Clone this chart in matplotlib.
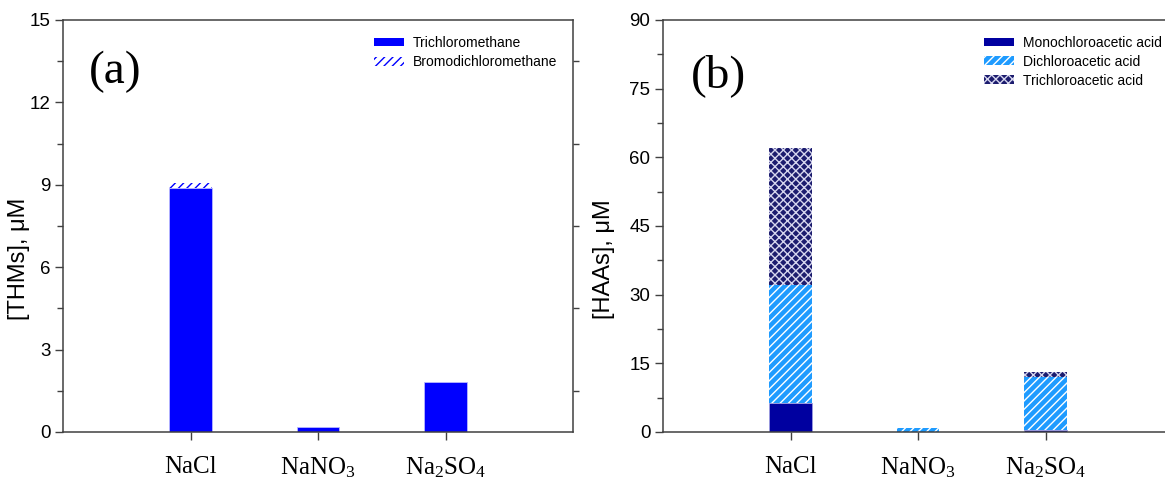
import matplotlib
matplotlib.use("Agg")
import matplotlib.pyplot as plt
from matplotlib.patches import Patch
from matplotlib.ticker import MultipleLocator
import numpy as np

# --- data -------------------------------------------------------------
salts = ["NaCl", "NaNO$_3$", "Na$_2$SO$_4$"]

# THMs (uM)
trichloromethane = [8.9, 0.2, 1.82]
bromodichloromethane = [0.15, 0.0, 0.0]

# HAAs (uM)
monochloroacetic = [6.3, 0.0, 0.5]
dichloroacetic = [25.8, 0.8, 11.5]
trichloroacetic = [30.0, 0.0, 1.2]

thm_ticks = [0, 3, 6, 9, 12, 15]
haa_ticks = [0, 15, 30, 45, 60, 75, 90]

# --- style ------------------------------------------------------------
plt.rcParams["font.family"] = ["Liberation Sans", "DejaVu Sans"]
plt.rcParams["mathtext.fontset"] = "custom"
plt.rcParams["mathtext.rm"] = "Liberation Serif"
plt.rcParams["mathtext.it"] = "Liberation Serif:italic"
plt.rcParams["hatch.linewidth"] = 1.0

SPINE = "#404040"
BLUE = "#0000FF"
NAVY = "#0000A0"
SKY = "#1E9BFF"
CHECK_FACE = "#1C1C6E"
CHECK_LINE = "#D6D6EE"

fig = plt.figure(figsize=(11.65, 4.86), dpi=100)
W, H = 1165, 486
ax_a = fig.add_axes([63 / W, 1 - 432 / H, (573 - 63) / W, (432 - 20) / H])
ax_b = fig.add_axes([663 / W, 1 - 432 / H, (1173 - 663) / W, (432 - 20) / H])

x = np.arange(1, len(salts) + 1)
bw = 0.33


def style_axes(ax, ymax, ticks, minor, ylabel, label_x):
    ax.set_xlim(0, 4)
    ax.set_ylim(0, ymax)
    ax.set_yticks(ticks)
    ax.yaxis.set_minor_locator(MultipleLocator(minor))
    ax.set_xticks(x)
    ax.set_xticklabels(salts, fontsize=18, family="Liberation Serif")
    for s in ax.spines.values():
        s.set_color(SPINE)
        s.set_linewidth(1.1)
    ax.tick_params(axis="y", which="major", direction="out", length=6,
                   width=1, color=SPINE, labelsize=13.5, pad=3)
    ax.tick_params(axis="y", which="minor", direction="out", length=4,
                   width=1, color=SPINE)
    ax.tick_params(axis="x", which="major", direction="out", length=6,
                   width=1, color=SPINE, pad=11)
    ax.set_ylabel(ylabel, fontsize=17)
    ax.yaxis.set_label_coords(label_x, 0.42)


# --- (a) THMs ---------------------------------------------------------
ax_a.bar(x, trichloromethane, bw, color=BLUE, edgecolor="#B8B8FF",
         linewidth=0.6, zorder=2)
ax_a.bar(x, bromodichloromethane, bw, bottom=trichloromethane,
         facecolor="white", edgecolor=BLUE, hatch="////", linewidth=0,
         zorder=2)
style_axes(ax_a, 15, thm_ticks, 1.5, "[THMs], \u03bcM", -0.064)

# right-hand outward ticks without labels
ax_a_r = ax_a.twinx()
ax_a_r.set_ylim(0, 15)
ax_a_r.set_yticks([])
ax_a_r.yaxis.set_minor_locator(MultipleLocator(3, offset=1.5))
ax_a_r.tick_params(axis="y", which="minor", direction="out", length=4,
                   width=1, color=SPINE)
for s in ax_a_r.spines.values():
    s.set_visible(False)

ax_a.text(0.102, 0.875, "(a)", transform=ax_a.transAxes, fontsize=34,
          family="Liberation Serif", ha="center", va="center")

leg_a = [Patch(facecolor=BLUE, edgecolor=BLUE, linewidth=0),
         Patch(facecolor="white", edgecolor=BLUE, hatch="////", linewidth=0)]
ax_a.legend(leg_a, ["Trichloromethane", "Bromodichloromethane"],
            loc="upper left", bbox_to_anchor=(0.59, 0.985), frameon=False,
            fontsize=10, handlelength=2.2, handleheight=0.6,
            handletextpad=0.65, labelspacing=0.4, borderpad=0.2)

# --- (b) HAAs ---------------------------------------------------------
mca = np.array(monochloroacetic)
dca = np.array(dichloroacetic)
tca = np.array(trichloroacetic)
ax_b.bar(x, mca, bw, color=NAVY, edgecolor="#9C9CE0", linewidth=0.6,
         zorder=2)
ax_b.bar(x, dca, bw, bottom=mca, facecolor=SKY, edgecolor="white",
         hatch="////", linewidth=0, zorder=2)
ax_b.bar(x, tca, bw, bottom=mca + dca, facecolor=CHECK_FACE,
         edgecolor=CHECK_LINE, hatch="xxxx", linewidth=0, zorder=2)
style_axes(ax_b, 90, haa_ticks, 7.5, "[HAAs], \u03bcM", -0.094)

ax_b.text(0.108, 0.865, "(b)", transform=ax_b.transAxes, fontsize=34,
          family="Liberation Serif", ha="center", va="center")

leg_b = [Patch(facecolor=NAVY, edgecolor=NAVY, linewidth=0),
         Patch(facecolor=SKY, edgecolor="white", hatch="////", linewidth=0),
         Patch(facecolor=CHECK_FACE, edgecolor=CHECK_LINE, hatch="xxxx",
               linewidth=0)]
ax_b.legend(leg_b, ["Monochloroacetic acid", "Dichloroacetic acid",
                    "Trichloroacetic acid"],
            loc="upper left", bbox_to_anchor=(0.61, 0.985), frameon=False,
            fontsize=10, handlelength=2.2, handleheight=0.6,
            handletextpad=0.65, labelspacing=0.35, borderpad=0.2)

fig.savefig("out.png", dpi=100)
